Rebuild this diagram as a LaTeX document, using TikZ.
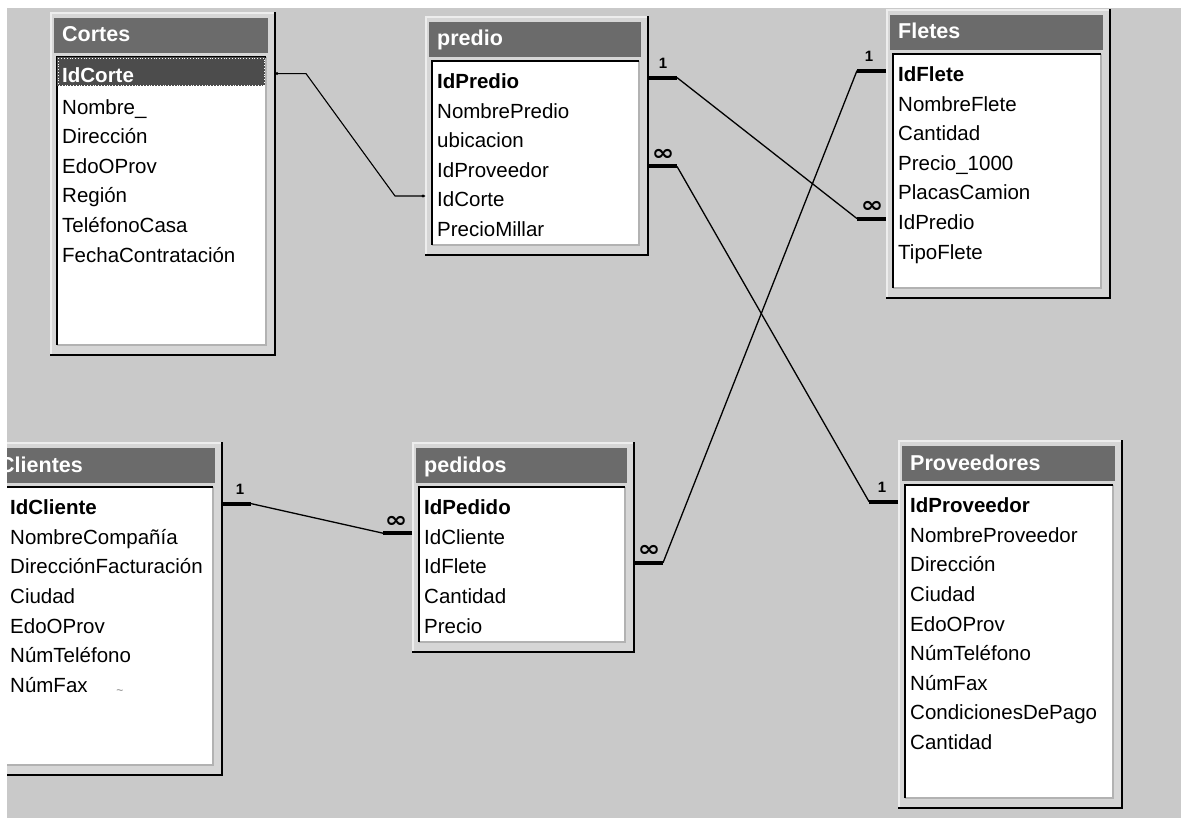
\documentclass[tikz,border=0pt]{standalone}
\usepackage{fontspec}
\setmainfont{Liberation Sans}
\newfontfamily\symfont{DejaVu Sans}
\usetikzlibrary{calc}
\definecolor{bgc}{gray}{0.79}
\definecolor{framec}{gray}{0.84}
\definecolor{framelight}{gray}{0.93}
\definecolor{titlec}{gray}{0.42}
\definecolor{hilite}{gray}{0.30}
\tikzset{
  rowtext/.style={anchor=base west, inner sep=0pt, font=\fontsize{20.5}{24}\selectfont},
  keytext/.style={anchor=base west, inner sep=0pt, font=\fontsize{20.5}{24}\selectfont\bfseries},
  titletext/.style={anchor=base west, inner sep=0pt, text=white, font=\fontsize{21.5}{25}\selectfont\bfseries},
  rel/.style={line width=1.3pt, black},
  relbar/.style={line width=4pt, black},
  card/.style={anchor=base, inner sep=0pt, font=\fontsize{15}{16}\selectfont\bfseries},
  many/.style={anchor=base, inner sep=0pt, font=\symfont\fontsize{20}{20}\selectfont\bfseries},
}
\newcommand\manysym{\scalebox{1.35}[1.1]{∞}}
% #1 title text offset, #2 id, #3 L, #4 T, #5 R, #6 B, #7 title, #8 rows
\newcommand\dbtable[8][12]{%
  \fill[framec] (#3,#4) rectangle (#5,#6);
  \draw[framelight, line width=2pt] (#3+1,#6) -- (#3+1,#4+1) -- (#5,#4+1);
  \draw[black, line width=2.5pt] (#3,#6) -- (#5,#6) -- (#5,#4);
  \fill[titlec] (#3+4,#4+6) rectangle (#5-7,#4+41);
  \node[titletext] (#2-title) at (#3+#1,#4+30) {#7};
  \fill[white] (#3+7,#4+45) rectangle (#5-9,#6-10);
  \draw[gray!60, line width=1.5pt] (#3+7,#6-10) -- (#5-9,#6-10) -- (#5-9,#4+45);
  \draw[black, line width=2pt] (#3+7,#6-10) -- (#3+7,#4+45) -- (#5-9,#4+45);
  \foreach \r [count=\i] in {#8} {
    \pgfmathsetmacro\yy{#4+72.6+(\i-1)*29.6}
    \ifnum\i=1
      \node[keytext] (#2-\i) at (#3+12,\yy) {\r};
    \else
      \node[rowtext] (#2-\i) at (#3+12,\yy) {\r};
    \fi
    \coordinate (#2-\i-r) at (#5,\yy-11);
    \coordinate (#2-\i-l) at (#3,\yy-11);
  }
}
\begin{document}
\begin{tikzpicture}[x=1pt,y=-1pt]
\useasboundingbox (0,0) rectangle (1181,818);
\fill[bgc] (0,0) rectangle (1181,818);

\dbtable{Cortes}{50}{12}{275}{355}{Cortes}{IdCorte,Nombre\_,Dirección,EdoOProv,Región,TeléfonoCasa,FechaContratación}
% selected row
\fill[hilite] (57,57) rectangle (265,86);
\draw[white, dotted, line width=0.8pt] (58,58) rectangle (264,85);
\node[keytext, text=white] (Cortes-sel) at (62,82.6) {IdCorte};

\dbtable{predio}{425}{16}{648}{255}{predio}{IdPredio,NombrePredio,ubicacion,IdProveedor,IdCorte,PrecioMillar}
\dbtable{Fletes}{886}{9}{1110}{298}{Fletes}{IdFlete,NombreFlete,Cantidad,Precio\_1000,PlacasCamion,IdPredio,TipoFlete}
\dbtable[1]{Clientes}{-2}{442}{222}{775}{Clientes}{IdCliente,NombreCompañía,DirecciónFacturación,Ciudad,EdoOProv,NúmTeléfono,NúmFax}
\dbtable{pedidos}{412}{442}{634}{652}{pedidos}{IdPedido,IdCliente,IdFlete,Cantidad,Precio}
\dbtable{Proveedores}{898}{440}{1122}{808}{Proveedores}{IdProveedor,NombreProveedor,Dirección,Ciudad,EdoOProv,NúmTeléfono,NúmFax,CondicionesDePago,Cantidad}

\node[text=gray, inner sep=0pt, font=\fontsize{12}{12}\selectfont] (tilde) at (120,692) {\textasciitilde};

% Cortes.IdCorte -- predio.IdCorte (no integrity)
\draw[rel, line width=1.1pt] (Cortes-1-r) -- ++(31,0) -- ($(predio-5-l)+(-30,0)$) -- (predio-5-l);
\fill (Cortes-1-r) ++(2,0) circle (1.6pt);
\fill (predio-5-l) ++(-2,0) circle (1.6pt);

% predio.IdPredio 1 -- Fletes.IdPredio many
\draw[relbar] (predio-1-r) -- ++(29,0) coordinate (b1);
\draw[relbar] (Fletes-6-l) -- ++(-29,0) coordinate (b2);
\draw[rel] (b1) -- (b2);
\node[card] (c1) at ($(predio-1-r)+(15,-9)$) {1};
\node[many] (c2) at ($(Fletes-6-l)+(-14,-6)$) {\manysym};

% predio.IdProveedor many -- Proveedores.IdProveedor 1
\draw[relbar] (predio-4-r) -- ++(29,0) coordinate (b3);
\draw[relbar] (Proveedores-1-l) -- ++(-29,0) coordinate (b4);
\draw[rel] (b3) -- (b4);
\node[many] (c3) at ($(predio-4-r)+(15,-6)$) {\manysym};
\node[card] (c4) at ($(Proveedores-1-l)+(-16,-9)$) {1};

% Fletes.IdFlete 1 -- pedidos.IdFlete many
\draw[relbar] (Fletes-1-l) -- ++(-29,0) coordinate (b5);
\draw[relbar] (pedidos-3-r) -- ++(29,0) coordinate (b6);
\draw[rel] (b5) -- (b6);
\node[card] (c5) at ($(Fletes-1-l)+(-17,-9)$) {1};
\node[many] (c6) at ($(pedidos-3-r)+(15,-6)$) {\manysym};

% Clientes.IdCliente 1 -- pedidos.IdCliente many
\draw[relbar] (Clientes-1-r) -- ++(29,0) coordinate (b7);
\draw[relbar] (pedidos-2-l) -- ++(-29,0) coordinate (b8);
\draw[rel] (b7) -- (b8);
\node[card] (c7) at ($(Clientes-1-r)+(18,-9)$) {1};
\node[many] (c8) at ($(pedidos-2-l)+(-16,-6)$) {\manysym};

% white scan margins
\fill[white] (0,0) rectangle (1181,8);
\fill[white] (0,0) rectangle (7,818);
\end{tikzpicture}
\end{document}
